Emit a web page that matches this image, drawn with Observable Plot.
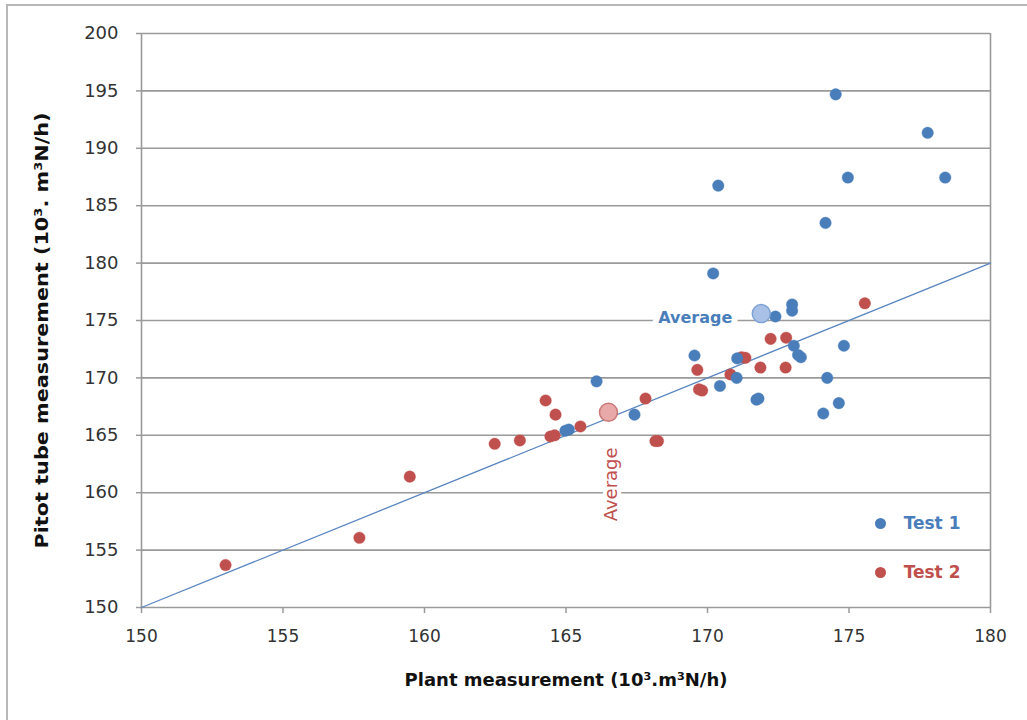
<!DOCTYPE html>
<html>
<head>
<meta charset="utf-8">
<script src="https://cdn.jsdelivr.net/npm/d3@7"></script>
<script src="https://cdn.jsdelivr.net/npm/@observablehq/plot@0.6"></script>
<style>
  html, body { margin: 0; padding: 0; background: #fff; overflow: hidden; }
  #wrap { position: relative; width: 1027px; height: 720px; }
  #border { position: absolute; left: 6px; top: 4px; width: 1100px; height: 800px;
            border-left: 2px solid #b8b8b8; border-top: 2px solid #b8b8b8; pointer-events: none; }
</style>
</head>
<body>
<div id="wrap"><div id="border"></div></div>
<script>
// Tick values
const xTicks = [150, 155, 160, 165, 170, 175, 180];
const yTicks = [150, 155, 160, 165, 170, 175, 180, 185, 190, 195, 200];

// Test 1 (blue)
const test1X = [174.53, 177.78, 174.96, 178.4, 170.38, 174.17, 170.2, 172.99, 172.99, 172.4, 173.05, 174.82, 173.3, 173.2, 169.54, 171.05, 171.03, 174.23, 166.08, 170.44, 171.73, 171.8, 174.64, 167.42, 174.09, 164.98, 165.1];
const test1Y = [194.7, 191.35, 187.45, 187.45, 186.75, 183.5, 179.1, 176.4, 175.85, 175.35, 172.8, 172.8, 171.8, 172.0, 171.95, 171.7, 170.0, 170.0, 169.7, 169.3, 168.1, 168.2, 167.8, 166.8, 166.9, 165.4, 165.5];

// Test 2 (red)
const test2X = [175.56, 172.23, 172.78, 171.34, 171.2, 171.87, 172.76, 169.64, 170.81, 169.81, 169.7, 167.81, 164.28, 164.63, 165.51, 164.45, 164.6, 168.16, 168.25, 163.37, 162.48, 159.48, 157.7, 152.97];
const test2Y = [176.5, 173.4, 173.5, 171.75, 171.8, 170.9, 170.9, 170.7, 170.3, 168.9, 169.0, 168.2, 168.03, 166.8, 165.77, 164.9, 165.0, 164.5, 164.5, 164.55, 164.26, 161.4, 156.07, 153.7];

// Averages
const avgX = [171.9, 166.5];
const avgY = [175.6, 167.0];
const avgLabels = ["Average", "Average"];

// Reference line y = x
const lineX = [150, 180];
const lineY = [150, 180];

// Legend
const seriesNames = ["Test 1", "Test 2"];

// Axis titles
const xTitle = "Plant measurement (10³.m³N/h)";
const yTitle = "Pitot tube measurement (10³. m³N/h)";

const blue = "#4a7ebb", red = "#c0504d";
const grid = "#9a9a9a";
const font = "'Comic Sans MS', 'DejaVu Sans', sans-serif";

const t1 = test1X.map((x, i) => ({x, y: test1Y[i]}));
const t2 = test2X.map((x, i) => ({x, y: test2Y[i]}));
const line = lineX.map((x, i) => ({x, y: lineY[i]}));
const avg = avgX.map((x, i) => ({x, y: avgY[i], label: avgLabels[i]}));

const chart = Plot.plot({
  width: 1027,
  height: 720,
  marginLeft: 141,
  marginRight: 37,
  marginTop: 33,
  marginBottom: 113,
  style: {fontFamily: font, background: "transparent", overflow: "visible"},
  x: {domain: [150, 180]},
  y: {domain: [150, 200]},
  marks: [
    Plot.ruleY(yTicks, {stroke: grid, strokeWidth: 1.6}),
    Plot.ruleX([150, 180], {stroke: grid, strokeWidth: 1.6}),
    Plot.axisX({ticks: xTicks, tickSize: 6, tickPadding: 16, fontSize: 17, stroke: grid, strokeWidth: 1.5, color: "#333", label: null}),
    Plot.axisY({ticks: yTicks, tickSize: 5, tickPadding: 18, fontSize: 18, stroke: grid, strokeWidth: 1.5, color: "#333", label: null, fontFamily: "DejaVu Sans"}),
    Plot.line(line, {x: "x", y: "y", stroke: "#5a86c0", strokeWidth: 1.3}),
    Plot.dot(t2, {x: "x", y: "y", r: 5.8, fill: red, stroke: red, strokeOpacity: 0.35, strokeWidth: 1}),
    Plot.dot(t1, {x: "x", y: "y", r: 5.8, fill: blue, stroke: blue, strokeOpacity: 0.35, strokeWidth: 1}),
    Plot.dot([avg[0]], {x: "x", y: "y", r: 9, fill: "#a9c1e6", stroke: "#7fa3d6", strokeWidth: 1.5}),
    Plot.dot([avg[1]], {x: "x", y: "y", r: 9, fill: "#e9a9a9", stroke: "#c97a78", strokeWidth: 1.5}),
    Plot.text([avg[0]], {x: "x", y: "y", text: "label", dx: -66, dy: 4, fill: blue, fontSize: 16, fontWeight: "bold", fontFamily: "DejaVu Sans", stroke: "white", strokeWidth: 12, paintOrder: "stroke"}),
    Plot.text([avg[1]], {x: "x", y: "y", text: "label", dx: 3, dy: 72, rotate: -90, fill: red, fontSize: 18, fontFamily: "DejaVu Sans", stroke: "white", strokeWidth: 8, paintOrder: "stroke"}),
    // legend
    Plot.dot([seriesNames[0]], {frameAnchor: "bottom-right", dx: -110, dy: -84, r: 5.5, fill: blue}),
    Plot.dot([seriesNames[1]], {frameAnchor: "bottom-right", dx: -110, dy: -35, r: 5.5, fill: red}),
    Plot.text([seriesNames[0]], {text: d => d, frameAnchor: "bottom-right", dx: -30, dy: -84, textAnchor: "end", lineAnchor: "middle", fill: blue, fontSize: 17, fontWeight: "bold", fontFamily: "DejaVu Sans"}),
    Plot.text([seriesNames[1]], {text: d => d, frameAnchor: "bottom-right", dx: -30, dy: -35, textAnchor: "end", lineAnchor: "middle", fill: red, fontSize: 17, fontWeight: "bold", fontFamily: "DejaVu Sans"}),
    // axis titles
    Plot.text([xTitle], {text: d => d, frameAnchor: "bottom", textAnchor: "middle", lineAnchor: "middle", dy: 73, fill: "#111", fontSize: 18, fontFamily: "DejaVu Sans", fontWeight: 600}),
    Plot.text([yTitle], {text: d => d, frameAnchor: "left", textAnchor: "middle", lineAnchor: "middle", dx: -99, dy: 10, rotate: -90, fill: "#111", fontSize: 18, fontWeight: "bold", fontFamily: "DejaVu Sans"})
  ]
});
document.getElementById("wrap").prepend(chart);
// stretch the y-axis title to its original length
d3.select(chart).selectAll("text").filter(function() { return this.textContent === yTitle; })
  .attr("textLength", 436).attr("lengthAdjust", "spacingAndGlyphs");
</script>
</body>
</html>
